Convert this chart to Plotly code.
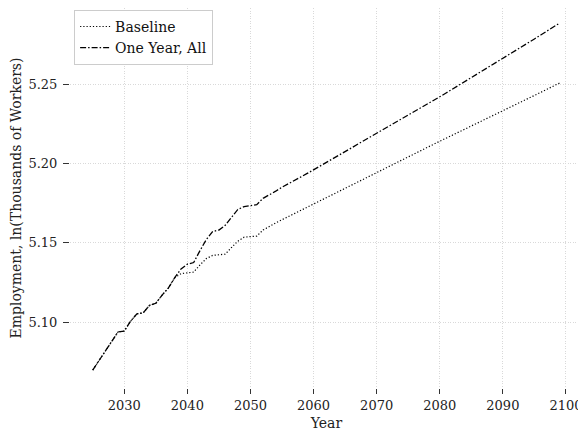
import plotly.graph_objects as go

years = list(range(2025, 2100))

shared_early = [5.0697, 5.0757, 5.0817, 5.0877, 5.0937, 5.0943, 5.1005, 5.1052,
                5.1058, 5.1105, 5.1118, 5.1170, 5.1215, 5.1280]  # 2025-2038

baseline_mid = [5.1305, 5.1310, 5.1315, 5.1360, 5.1400, 5.1420, 5.1423, 5.1428,
                5.1470, 5.1510, 5.1535, 5.1538, 5.1542, 5.1580, 5.1605, 5.1625,
                5.1645, 5.1665, 5.1685, 5.1705, 5.1722, 5.1740]  # 2039-2060
baseline_late = [5.1760, 5.1780, 5.1800, 5.1820, 5.1840, 5.1860, 5.1880, 5.1900, 5.1920, 5.1940,
                 5.1960, 5.1980, 5.2000, 5.2020, 5.2040, 5.2060, 5.2080, 5.2100, 5.2120, 5.2140,
                 5.2159, 5.2178, 5.2197, 5.2216, 5.2235, 5.2254, 5.2273, 5.2292, 5.2311, 5.2330,
                 5.2350, 5.2370, 5.2389, 5.2409, 5.2429, 5.2448, 5.2468, 5.2488, 5.2507]  # 2061-2099

oneyear_mid = [5.1335, 5.1365, 5.1375, 5.1450, 5.1520, 5.1570, 5.1580, 5.1610,
               5.1660, 5.1710, 5.1728, 5.1735, 5.1740, 5.1780, 5.1800, 5.1825,
               5.1850, 5.1870, 5.1890, 5.1915, 5.1937, 5.1960]  # 2039-2060
oneyear_late = [5.1983, 5.2005, 5.2028, 5.2050, 5.2073, 5.2095, 5.2118, 5.2140, 5.2163, 5.2185,
                5.2209, 5.2232, 5.2256, 5.2279, 5.2303, 5.2326, 5.2350, 5.2373, 5.2397, 5.2420,
                5.2444, 5.2468, 5.2492, 5.2516, 5.2540, 5.2564, 5.2588, 5.2612, 5.2636, 5.2660,
                5.2685, 5.2710, 5.2735, 5.2760, 5.2785, 5.2810, 5.2835, 5.2860, 5.2885]  # 2061-2099

baseline = shared_early + baseline_mid + baseline_late
one_year_all = shared_early + oneyear_mid + oneyear_late

x_ticks = [2030, 2040, 2050, 2060, 2070, 2080, 2090, 2100]
y_ticks = [5.10, 5.15, 5.20, 5.25]

font_family = "'DejaVu Serif', 'Liberation Serif', serif"

fig = go.Figure()
fig.add_trace(go.Scatter(x=years, y=baseline, mode="lines", name="Baseline",
                         line=dict(color="black", width=1.2, dash="1.2px,2px")))
fig.add_trace(go.Scatter(x=years, y=one_year_all, mode="lines", name="One Year, All",
                         line=dict(color="black", width=1.3, dash="6px,2px,1.5px,2px")))

# The page body has an 8px default margin, so the figure is sized 8px smaller
fig.update_layout(
    width=578, height=423,
    margin=dict(l=62, r=3, t=0, b=43, autoexpand=False),
    paper_bgcolor="white", plot_bgcolor="white",
    font=dict(family=font_family, size=13, color="#222222"),
    showlegend=True,
    legend=dict(x=0.008, y=0.995, xanchor="left", yanchor="top",
                bgcolor="white", bordercolor="#cccccc", borderwidth=1,
                font=dict(family=font_family, size=14, color="#111111"),
                tracegroupgap=0, itemwidth=30),
)
fig.update_xaxes(
    range=[2021.4, 2102.7], tickvals=x_ticks, ticktext=[str(t) for t in x_ticks],
    showgrid=True, gridcolor="#d9d9d9", griddash="1px,1.5px", gridwidth=1,
    showline=False, zeroline=False, automargin=False,
    ticks="outside", ticklen=5, tickwidth=1, tickcolor="#333333",
    title=dict(text="Year", font=dict(size=14), standoff=7),
)
fig.update_yaxes(
    range=[5.0584, 5.2980], tickvals=y_ticks, ticktext=[f"{t:.2f}" for t in y_ticks],
    showgrid=True, gridcolor="#d9d9d9", griddash="1px,1.5px", gridwidth=1,
    showline=False, zeroline=False, automargin=False,
    ticks="outside", ticklen=6, tickwidth=1, tickcolor="#333333",
    ticklabelstandoff=3,
    title=dict(text="Employment, ln(Thousands of Workers)", font=dict(size=14), standoff=3),
)

fig.write_html("out.html")
